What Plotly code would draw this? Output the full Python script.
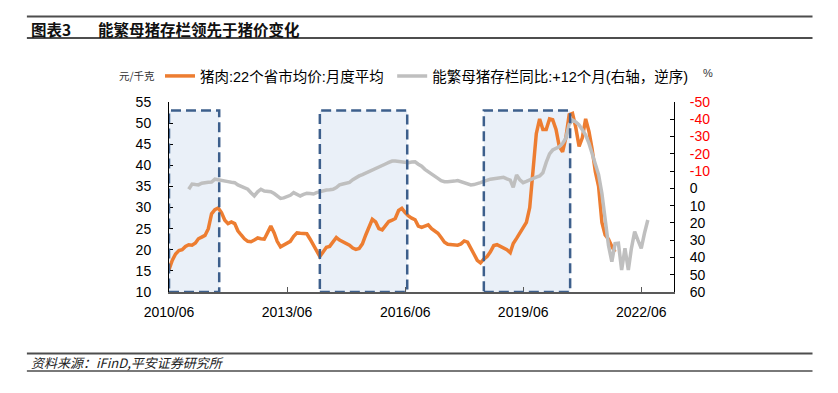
import plotly.graph_objects as go
import pandas as pd

# ---------------- data ----------------
pork_start = "2010-06-01"
pork_price = [
    15.3, 17.5, 19.0, 19.8, 20.0, 20.8, 21.2, 21.1, 21.6, 22.6,
    23.0, 23.4, 25.0, 28.5, 29.5, 29.9, 28.8, 27.0, 26.2, 26.6,
    26.2, 24.5, 23.5, 22.6, 22.0, 21.9, 22.3, 22.8, 22.6, 22.5,
    24.0, 25.6, 24.0, 22.0, 20.7, 21.2, 21.7, 22.0, 23.2, 24.0,
    23.9, 23.9, 23.8, 22.5, 21.0, 19.5, 18.4, 19.5, 20.6, 20.8,
    21.9, 22.9, 22.3, 21.9, 21.5, 21.1, 20.4, 20.1, 20.3, 21.4,
    23.5, 25.5, 27.2, 26.6, 25.0, 24.7, 25.8, 26.7, 27.0, 27.4,
    29.3, 29.8, 28.8, 28.0, 27.5, 27.1, 25.6, 25.3, 25.6, 25.9,
    25.0, 24.4, 23.9, 22.9, 21.8, 21.3, 21.2, 21.1, 21.1, 21.4,
    22.1, 21.8, 20.5, 19.0, 17.5, 16.9, 17.8, 18.4, 19.5, 21.0,
    21.2, 20.8, 20.5, 20.0, 19.3, 21.5, 22.7, 24.0, 25.0, 26.5,
    30.0, 38.0, 47.5, 51.0, 48.5, 48.5, 51.0, 50.8, 48.5, 44.5,
    43.2, 46.5, 52.0, 52.3, 49.0, 44.5, 46.5, 51.0, 48.0, 44.0,
    38.5, 35.0, 26.5, 23.5, 22.5, 20.8, 19.5,
]

sow_start = "2010-12-01"
sow_yoy_lead12 = [
    0.5, -2.5, -2.2, -2.0, -3.0, -3.5, -3.5, -3.6, -5.3, -5.0,
    -4.5, -4.0, -3.9, -3.5, -3.3, -2.0, -1.0, 0.0, 0.5, 2.5,
    4.4, 2.0, 0.5, 1.5, 1.9, 1.9, 3.0, 4.5, 5.8, 5.5,
    4.8, 4.0, 2.5, 3.5, 4.4, 3.5, 2.9, 3.0, 3.3, 2.5,
    1.9, 1.5, 1.0, 0.8, 0.5, -0.5, -2.0, -2.5, -3.0, -3.5,
    -5.0, -6.2, -7.2, -8.0, -8.8, -9.6, -10.5, -11.4, -12.2, -13.0,
    -14.1, -15.0, -15.8, -15.8, -15.6, -15.4, -15.0, -14.9, -15.2, -15.4,
    -14.0, -12.8, -11.0, -9.8, -8.5, -7.0, -5.8, -4.5, -3.9, -3.9,
    -3.9, -4.2, -4.5, -3.8, -3.0, -2.2, -2.0, -2.2, -2.6, -3.3,
    -4.0, -4.8, -5.3, -5.6, -5.8, -6.0, -6.4, -5.5, -4.8, -0.6,
    -7.7, -5.0, -3.3, -4.0, -5.0, -5.8, -6.5, -7.2, -9.0, -15.0,
    -20.0, -22.2, -23.0, -24.1, -26.0, -29.0, -37.0, -39.6, -38.5, -36.7,
    -34.0, -30.9, -26.0, -20.3, -14.0, -8.0, 3.0, 20.0, 33.0, 42.5,
    32.0, 31.8, 47.3, 34.7, 47.3, 35.0, 25.0, 30.0, 34.7, 26.0,
    18.3,
]

shade_starts = ["2010-06-01", "2014-04-01", "2018-06-01"]
shade_ends = ["2011-09-10", "2016-06-20", "2020-08-10"]
shade_top = 53

x_tick_vals = ["2010-06-01", "2013-06-01", "2016-06-01", "2019-06-01", "2022-06-01"]
x_tick_text = ["2010/06", "2013/06", "2016/06", "2019/06", "2022/06"]
x_range = ["2010-06-01", "2023-04-01"]
left_ticks = list(range(10, 56, 5))
right_ticks = list(range(-50, 61, 10))

series_names = ["猪肉:22个省市均价:月度平均", "能繁母猪存栏同比:+12个月(右轴，逆序)"]
title_num = "图表3"
title_text = "能繁母猪存栏领先于猪价变化"
source_text = "资料来源：iFinD,平安证券研究所"

# ---------------- layout helpers ----------------
W, H = 838, 393
PL, PR, PT, PB = 169, 673.6, 102, 292

def fx(px):
    return (px - PL) / (PR - PL)

def fy(py):
    return (PB - py) / (PB - PT)

FONT = "Liberation Sans, Arial, Noto Sans CJK SC, sans-serif"
CJK = "Noto Sans CJK SC, Liberation Sans, sans-serif"

pork_dates = pd.date_range(pork_start, periods=len(pork_price), freq="MS")
sow_dates = pd.date_range(sow_start, periods=len(sow_yoy_lead12), freq="MS")

fig = go.Figure()
fig.add_trace(go.Scatter(
    x=pork_dates, y=pork_price, name=series_names[0], mode="lines",
    line=dict(color="#ED7D31", width=3.5), yaxis="y", legend="legend"))
fig.add_trace(go.Scatter(
    x=sow_dates, y=sow_yoy_lead12, name=series_names[1], mode="lines",
    line=dict(color="#BFBFBF", width=3.5), yaxis="y2", legend="legend2"))

shapes = []
for s, e in zip(shade_starts, shade_ends):
    shapes.append(dict(type="rect", xref="x", yref="y", x0=s, x1=e, y0=10, y1=shade_top,
                       fillcolor="#EAF0F8", line=dict(width=0), layer="below"))
for s, e in zip(shade_starts, shade_ends):
    shapes.append(dict(type="rect", xref="x", yref="y", x0=s, x1=e, y0=10, y1=shade_top,
                       fillcolor="rgba(0,0,0,0)",
                       line=dict(color="#3D5F8C", width=2.5, dash="10px,5px"), layer="above"))

# header / footer rules
for py, w in [(16.5, 2.2), (38, 2.2), (353.5, 2), (371, 1.5)]:
    shapes.append(dict(type="line", xref="paper", yref="paper",
                       x0=fx(27), x1=fx(812), y0=fy(py), y1=fy(py),
                       line=dict(color="#4D4D4D", width=w)))

annotations = [
    dict(text=f"<b>{title_num}</b>", x=fx(29), y=fy(29), xref="paper", yref="paper",
         xanchor="left", yanchor="middle", showarrow=False,
         font=dict(family=CJK, size=15.5, color="#111111")),
    dict(text=f"<b>{title_text}</b>", x=fx(96), y=fy(29), xref="paper", yref="paper",
         xanchor="left", yanchor="middle", showarrow=False,
         font=dict(family=CJK, size=15.5, color="#111111")),
    dict(text=f"<i>{source_text}</i>", x=fx(29), y=fy(362.5), xref="paper", yref="paper",
         xanchor="left", yanchor="middle", showarrow=False,
         font=dict(family=CJK, size=13, color="#222222")),
    dict(text="元/千克", x=fx(137), y=fy(75), xref="paper", yref="paper",
         xanchor="center", yanchor="middle", showarrow=False,
         font=dict(family=CJK, size=10.5, color="#333333")),
    dict(text="%", x=fx(708), y=fy(73), xref="paper", yref="paper",
         xanchor="center", yanchor="middle", showarrow=False,
         font=dict(family=FONT, size=11, color="#333333")),
]

right_text = [f"<span style='color:#FF0000'>{v}</span>" if v < 0 else str(v) for v in right_ticks]

legend_common = dict(orientation="h", xref="paper", yref="paper",
                     xanchor="left", yanchor="middle",
                     font=dict(family=FONT, size=14.5, color="#000000"),
                     bgcolor="rgba(0,0,0,0)", itemclick=False, itemdoubleclick=False)

fig.update_layout(
    width=W, height=H, autosize=False,
    margin=dict(l=PL, r=W - PR, t=PT, b=H - PB, pad=0),
    paper_bgcolor="white", plot_bgcolor="white",
    font=dict(family=FONT, size=14, color="#000000"),
    showlegend=True,
    legend=dict(x=fx(160), y=fy(76), **legend_common),
    legend2=dict(x=fx(392), y=fy(76), **legend_common),
    xaxis=dict(type="date", range=x_range, tickvals=x_tick_vals, ticktext=x_tick_text,
               showgrid=False, zeroline=False, showline=True, linecolor="#595959", linewidth=1.5,
               ticks="inside", ticklen=5, tickcolor="#595959", tickwidth=1.2,
               tickfont=dict(size=14), ticklabelstandoff=6),
    yaxis=dict(range=[10, 55], tickvals=left_ticks, showgrid=False, zeroline=False,
               showline=True, linecolor="#000000", linewidth=1,
               ticks="inside", ticklen=4, tickcolor="#000000",
               tickfont=dict(size=14), ticklabelstandoff=14),
    yaxis2=dict(range=[60, -50], overlaying="y", side="right", tickvals=right_ticks,
                ticktext=right_text, showgrid=False, zeroline=False,
                showline=True, linecolor="#000000", linewidth=1,
                ticks="inside", ticklen=4, tickcolor="#000000",
                tickfont=dict(size=14), ticklabelstandoff=12),
    shapes=shapes,
    annotations=annotations,
)

fig.write_html("out.html", config={"displayModeBar": False},
               post_script="document.body.style.margin='0px';")
